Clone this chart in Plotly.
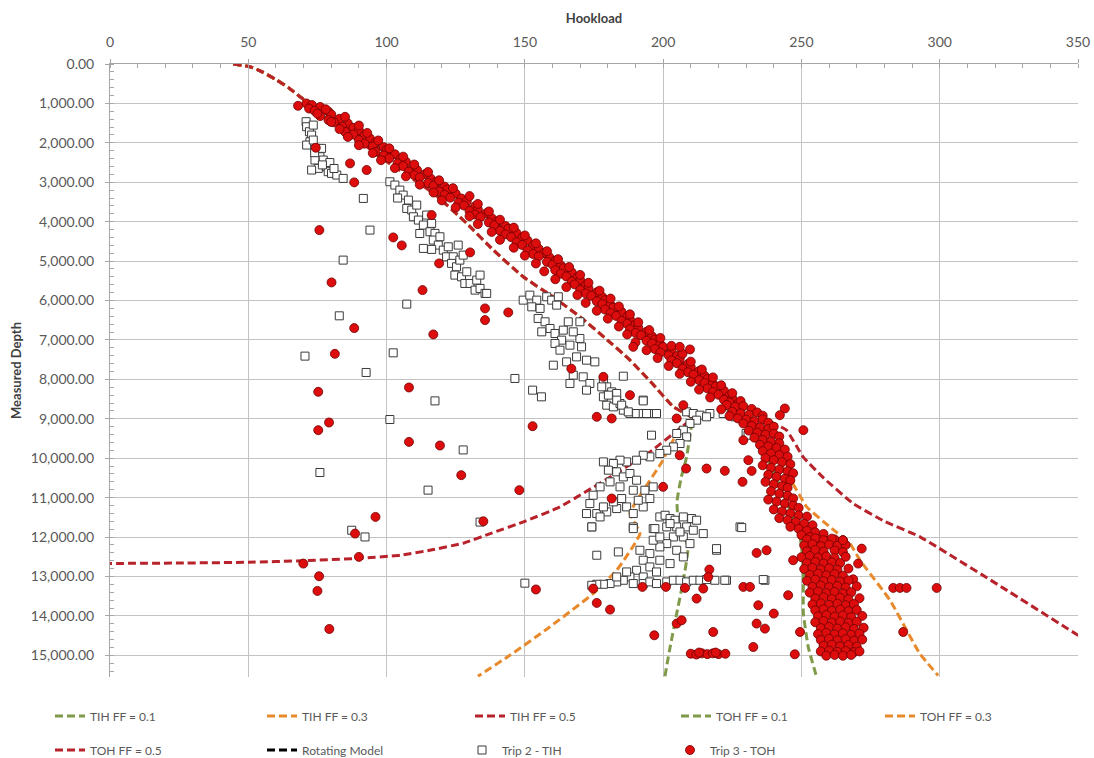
import plotly.graph_objects as go

# ---------------------------------------------------------------------------
# Torque & drag model curves: hookload (klbf) vs measured depth (ft)
# ---------------------------------------------------------------------------
# vertical section shared by every model curve
surface_hl = [44.6, 50.6, 55.0, 60.3, 64.5, 68.7, 72.0]
surface_md = [0, 70, 200, 406, 600, 830, 1000]

# trip-in-hole curves follow the FF = 0.5 path down to ~8,950 ft
tih_upper_hl = [76, 82, 88, 93, 97.6, 107, 117, 129, 138.6, 149.4, 160, 170, 179, 188, 196, 203.7, 209, 210.5]
tih_upper_md = [1250, 1550, 1850, 2100, 2352, 2800, 3282, 4043, 4720, 5397, 5900, 6414, 6950, 7512, 8100, 8697, 8900, 8980]

tih_ff01_hl = surface_hl + tih_upper_hl + [209.5, 208.5, 206.5, 205, 205.5, 209, 207.3, 204.9, 202.5, 200.6]
tih_ff01_md = surface_md + tih_upper_md + [9500, 9966, 10500, 11100, 11600, 12250, 13096, 13942, 14800, 15550]

tih_ff03_hl = surface_hl + tih_upper_hl + [204, 199.5, 193, 188, 191.6, 183.2, 174.7, 159, 144.6, 133]
tih_ff03_md = surface_md + tih_upper_md + [9500, 10100, 10800, 11400, 11911, 12842, 13434, 14281, 15000, 15530]

tih_ff05_hl = surface_hl + tih_upper_hl + [205, 196, 182, 172, 162.7, 150, 138, 128, 116, 105, 90, 70, 50, 25, 0]
tih_ff05_md = surface_md + tih_upper_md + [9300, 9800, 10430, 10850, 11235, 11600, 11900, 12150, 12330, 12460, 12540, 12600, 12640, 12660, 12670]

# pull-out-of-hole curves share the upper build-up to ~8,450 ft
toh_upper_hl = [83, 94.5, 116.5, 138.5, 159.5, 178, 196, 215, 222]
toh_upper_md = [1500, 2000, 3000, 4000, 5000, 6000, 7000, 8000, 8450]

toh_ff01_hl = surface_hl + toh_upper_hl + [226, 230, 234, 238.6, 244, 249.5, 250.7, 250.7, 252.5, 255.5]
toh_ff01_md = surface_md + toh_upper_md + [8700, 9100, 9600, 10135, 11000, 12000, 12760, 13940, 14800, 15550]

toh_ff03_hl = surface_hl + toh_upper_hl + [228, 233, 238, 243, 248.3, 251.9, 260.3, 267.5, 271.2, 282, 292.8, 299.4]
toh_ff03_md = surface_md + toh_upper_md + [8700, 9100, 9600, 10200, 10812, 11235, 11743, 12160, 12589, 13600, 14957, 15510]

toh_ff05_hl = surface_hl + toh_upper_hl + [232, 238, 244.6, 250.6, 258, 268.7, 280, 293, 322, 350, 362]
toh_ff05_md = surface_md + toh_upper_md + [8850, 9050, 9290, 9966, 10500, 11150, 11600, 12000, 13250, 14490, 15000]

# ---------------------------------------------------------------------------
# Field measurements: (hookload, measured depth)
# ---------------------------------------------------------------------------
trip2_tih = [
    # shallow cluster
    (70.9, 1464), (71.1, 1591), (72.1, 1718), (72.9, 1802), (72.3, 1972), (71.1, 2056), (73.5, 1929),
    (74.7, 2140), (76.5, 2140), (75.9, 2352), (74.1, 2436), (77.1, 2436), (78.3, 2606), (75.3, 2648),
    (78.9, 2732), (80.1, 2775), (82.0, 2817), (84.3, 2902), (72.9, 2690), (73.5, 1550), (74.0, 2250),
    (79.5, 2500), (76.8, 2560), (81.0, 2650),
    # second leg
    (101.2, 2987), (103.0, 3071), (104.8, 3198), (106.0, 3325), (107.9, 3452), (107.3, 3664), (109.1, 3705),
    (110.9, 3579), (109.7, 3875), (111.5, 3959), (113.3, 4086), (114.5, 3832), (116.3, 4043), (115.7, 4256),
    (117.5, 4297), (116.9, 4467), (119.3, 4383), (118.7, 4594), (120.5, 4721), (122.3, 4637), (121.7, 4891),
    (124.1, 4891), (123.5, 5058), (125.3, 5145), (126.5, 4975), (124.7, 5355), (127.1, 5398), (129.0, 5271),
    (128.3, 5567), (130.2, 5567), (132.6, 5482), (132.0, 5736), (133.8, 5693), (135.6, 5820), (113.3, 4678),
    (116.3, 4703), (125.9, 4594), (127.7, 4848), (104.0, 3400), (112.0, 4300), (133.8, 5355), (136.2, 5820),
    # third leg
    (149.4, 5990), (151.8, 5863), (154.3, 5990), (152.5, 6160), (155.5, 6200), (157.9, 5905), (159.7, 5990),
    (162.1, 5905), (161.5, 6117), (154.8, 6455), (157.3, 6540), (159.1, 6709), (156.1, 6794), (160.9, 6836),
    (163.9, 6751), (163.3, 7005), (166.3, 7132), (160.9, 7089), (169.9, 6962), (170.5, 7175), (168.7, 7429),
    (172.3, 7513), (175.3, 7556), (162.7, 7259), (165.7, 6540), (167.5, 6794), (169.9, 6540), (160.3, 7640),
    (165.1, 7556), (167.5, 7893), (171.1, 7936), (173.5, 8104), (178.4, 8020), (179.6, 8190), (181.4, 8317),
    (183.2, 8358), (179.6, 8655), (182.0, 8697), (184.4, 8612), (185.6, 8781), (188.0, 8866), (190.4, 8866),
    (192.8, 8866), (195.2, 8866), (197.6, 8866), (178.4, 8443), (166.3, 8104), (172.3, 8274), (177.8, 8190),
    (180.2, 8400), (183.2, 8527), (185.0, 8654), (187.4, 8824), (194.0, 8866), (192.8, 8527),
    # turn-around near 8,900 ft and upper "Z"
    (208.5, 8824), (216.9, 8866), (210.9, 8866), (213.3, 8908), (215.7, 8950), (212.1, 9035), (209.7, 9119),
    (207.3, 9289), (204.9, 9373), (208.5, 9459), (206.1, 9627), (203.7, 9713), (201.3, 9797), (198.8, 9881),
    (195.2, 9966), (192.8, 9924), (190.4, 10050), (186.8, 10094), (184.4, 10050), (182.0, 10135), (178.4, 10094),
    (180.2, 10304), (183.2, 10346), (185.6, 10474), (188.0, 10388), (190.4, 10558), (189.2, 10812), (184.4, 10727),
    (180.8, 10600), (177.2, 10727), (174.7, 10938), (173.5, 11150), (172.3, 11404), (176.0, 11404), (179.6, 11362),
    (183.2, 11277), (186.8, 11235), (189.2, 11404), (192.8, 11235), (195.2, 11023), (196.4, 10727), (193.4, 10812),
    (191.0, 11066), (185.0, 11023), (182.0, 11108), (178.4, 11235), (174.2, 11743), (177.2, 11489), (189.2, 11743),
    (196.4, 11785),
    # lower "Z" and the 13,100 ft run
    (198.8, 11489), (200.7, 11447), (202.5, 11531), (204.3, 11573), (207.3, 11489), (210.3, 11531), (212.1, 11573),
    (201.3, 11743), (204.9, 11743), (208.5, 11743), (210.9, 11827), (214.5, 11912), (203.7, 11997), (207.3, 11997),
    (209.7, 12166), (201.3, 12166), (198.8, 12250), (204.9, 12335), (207.3, 12504), (195.2, 12419), (198.8, 12588),
    (202.5, 12673), (192.8, 12588), (195.2, 12758), (197.6, 12885), (190.4, 12842), (192.8, 13012), (188.0, 13012),
    (185.6, 13096), (183.2, 13138), (180.8, 13180), (178.4, 13198), (176.0, 13198), (174.2, 13223), (189.2, 13180),
    (192.8, 13180), (195.2, 13138), (197.6, 13180), (201.3, 13138), (203.7, 13096), (206.1, 13096), (208.5, 13138),
    (210.9, 13096), (213.3, 13096), (215.7, 13079), (218.7, 13096), (222.9, 13096), (236.8, 13096), (219.3, 12335),
    (227.8, 11743), (176.0, 12461), (183.8, 12377), (191.6, 12335), (196.4, 12080), (198.8, 11997), (202.5, 11658),
    (206.1, 11870), (186.8, 12885), (183.2, 13012),
    # scattered readings
    (91.6, 3410), (94.0, 4213), (84.3, 4975), (82.9, 6388), (70.5, 7410), (92.6, 7825), (102.4, 7327),
    (107.3, 6091), (101.2, 9018), (75.9, 10363), (87.4, 11827), (92.2, 11997), (117.5, 8546), (127.7, 9790),
    (115.0, 10810), (133.8, 11620), (150.0, 13170), (146.4, 7977), (152.8, 8274), (156.0, 8443), (185.6, 7919),
    (192.8, 8546), (195.8, 9416), (230.0, 9373), (230.7, 9416), (226.0, 8950), (221.7, 8866), (174.2, 11743),
    (189.2, 11785), (197.0, 11785), (228.4, 11760), (219.3, 12293), (236.2, 13079), (222.3, 13096),
]

trip3_toh = [
    # main pull-out trend
    (71, 1000), (73, 1040), (76, 1090), (72, 1130), (74, 1190), (79, 1210), (80, 1280), (76, 1320),
    (83, 1390), (79, 1420), (81, 1480), (86, 1510), (84, 1590), (88, 1620), (90, 1680), (85, 1720),
    (88, 1790), (92, 1810), (94, 1890), (90, 1930), (96, 1990), (92, 2020), (95, 2090), (99, 2110),
    (100, 2180), (96, 2230), (103, 2290), (99, 2320), (101, 2390), (105, 2410), (107, 2480), (104, 2520),
    (106, 2590), (110, 2610), (111, 2690), (108, 2730), (114, 2790), (110, 2820), (112, 2880), (116, 2910),
    (118, 2990), (115, 3020), (117, 3090), (121, 3110), (122, 3180), (119, 3230), (125, 3290), (121, 3320),
    (123, 3390), (127, 3410), (129, 3480), (126, 3520), (128, 3590), (132, 3610), (133, 3690), (130, 3730),
    (136, 3790), (132, 3820), (134, 3880), (138, 3910), (140, 3990), (137, 4020), (139, 4090), (143, 4110),
    (144, 4180), (141, 4230), (147, 4290), (143, 4320), (145, 4390), (149, 4410), (151, 4480), (147, 4520),
    (149, 4590), (153, 4610), (155, 4690), (151, 4730), (157, 4790), (153, 4820), (155, 4880), (159, 4910),
    (161, 4990), (158, 5020), (160, 5090), (163, 5110), (164, 5180), (161, 5230), (167, 5290), (163, 5320),
    (165, 5390), (169, 5410), (170, 5480), (167, 5520), (168, 5590), (172, 5610), (173, 5690), (170, 5730),
    (176, 5790), (172, 5820), (174, 5880), (178, 5910), (179, 5990), (176, 6020), (178, 6090), (181, 6110),
    (182, 6180), (179, 6230), (185, 6290), (181, 6320), (183, 6390), (187, 6410), (188, 6480), (185, 6520),
    (187, 6590), (190, 6610), (191, 6690), (188, 6730), (194, 6790), (190, 6820), (192, 6880), (196, 6910),
    (197, 6990), (194, 7020), (196, 7090), (199, 7110), (200, 7180), (197, 7230), (203, 7290), (199, 7320),
    (202, 7390), (205, 7410), (206, 7480), (203, 7520), (205, 7590), (209, 7610), (210, 7690), (207, 7730),
    (213, 7790), (209, 7820), (211, 7880), (215, 7910), (216, 7990), (213, 8020), (215, 8090), (218, 8110),
    (219, 8180), (216, 8230), (222, 8290), (218, 8320), (220, 8390), (224, 8410), (225, 8480), (222, 8520),
    (224, 8590), (227, 8620),
    (68, 1060), (78, 1150), (75, 1260), (85, 1340), (80, 1470), (90, 1560), (83, 1650), (93, 1750),
    (86, 1850), (97, 1940), (90, 2060), (101, 2140), (95, 2260), (106, 2350), (98, 2440), (110, 2550),
    (103, 2640), (115, 2740), (107, 2850), (119, 2950), (112, 3060), (124, 3150), (117, 3260), (130, 3350),
    (120, 3460), (133, 3550), (125, 3640), (137, 3740), (130, 3860), (141, 3950), (133, 4060), (146, 4150),
    (138, 4260), (150, 4350), (141, 4460), (154, 4550), (146, 4660), (158, 4750), (150, 4860), (162, 4950),
    (154, 5060), (166, 5150), (157, 5260), (170, 5350), (161, 5460), (173, 5550), (165, 5660), (177, 5750),
    (169, 5860), (181, 5950), (172, 6060), (184, 6150), (176, 6260), (188, 6350), (180, 6460), (191, 6550),
    (184, 6660), (195, 6750), (187, 6860), (199, 6950), (190, 7060), (203, 7150), (194, 7260), (207, 7350),
    (198, 7460), (210, 7550), (202, 7660), (214, 7750), (206, 7860), (218, 7950), (210, 8060), (221, 8150),
    (213, 8260), (225, 8350), (217, 8460), (228, 8550),
    # bend below 8,600 ft
    (223, 8650), (226, 8700), (229, 8680), (232, 8750), (221, 8760), (225, 8820), (228, 8860), (231, 8900),
    (234, 8840), (236, 8920), (224, 8930), (227, 8990), (230, 9020), (233, 9060), (236, 9010), (238, 9100),
    (229, 9120), (232, 9180), (235, 9220), (238, 9260), (240, 9200), (231, 9300), (234, 9350), (237, 9400),
    (240, 9380), (242, 9450), (233, 9480), (236, 9540), (239, 9580), (242, 9620), (235, 9660), (238, 9700),
    (241, 9740), (244, 9780), (236, 9820), (239, 9880), (242, 9920), (245, 9960), (237, 10000), (240, 10050),
    (243, 10100), (246, 10150), (236, 10180), (239, 10240), (242, 10290), (245, 10330), (247, 10380), (238, 10420),
    (241, 10470), (244, 10520), (246, 10560), (237, 10600), (240, 10660), (243, 10710), (245, 10750), (239, 10840),
    (242, 10900), (245, 10950), (247, 11020), (238, 11050), (241, 11100), (244, 11150), (247, 11200), (249, 11260),
    (240, 11300), (243, 11350), (246, 11400), (249, 11450), (252, 11480), (242, 11520), (245, 11570), (248, 11620),
    (251, 11660), (254, 11700), (246, 11740), (249, 11790), (252, 11840), (255, 11880), (258, 11920), (250, 11950),
    (253, 12000), (256, 12050), (259, 12100), (262, 12060),
    # deep cluster
    (252, 12060), (255, 12030), (258, 12080), (261, 12040), (265, 12080),
    (251, 12210), (254, 12180), (257, 12230), (260, 12190), (263, 12220), (266, 12200), (271.8, 12293),
    (252, 12360), (255, 12330), (258, 12370), (262, 12340), (265, 12380),
    (250, 12510), (253, 12480), (256, 12520), (259, 12490), (262, 12530), (266, 12500),
    (252, 12660), (255, 12630), (258, 12670), (261, 12640), (264, 12660), (270.5, 12673),
    (251, 12810), (254, 12780), (257, 12820), (260, 12790), (263, 12830), (267, 12800),
    (253, 12960), (256, 12930), (259, 12970), (262, 12940), (265, 12980), (268.7, 13071),
    (252, 13110), (255, 13080), (258, 13120), (261, 13090), (264, 13130), (267, 13100),
    (254, 13260), (257, 13230), (260, 13270), (263, 13240), (266, 13280), (270, 13250),
    (253, 13410), (256, 13380), (259, 13420), (262, 13390), (265, 13430), (268, 13400),
    (255, 13560), (258, 13530), (261, 13570), (264, 13540), (267, 13580), (271, 13550),
    (254, 13710), (257, 13680), (260, 13720), (263, 13690), (266, 13730), (269, 13700),
    (255, 13860), (258, 13830), (261, 13870), (264, 13840), (267, 13880), (270, 13850),
    (256, 14010), (259, 13980), (262, 14020), (265, 13990), (268, 14030), (272, 14000),
    (255, 14160), (258, 14130), (261, 14170), (264, 14140), (267, 14180), (270, 14150),
    (257, 14310), (260, 14280), (263, 14320), (266, 14290), (269, 14330), (272.5, 14300),
    (256, 14460), (259, 14430), (262, 14470), (265, 14440), (268, 14480), (271, 14450),
    (257, 14610), (260, 14580), (263, 14620), (266, 14590), (269, 14630), (272, 14600),
    (258, 14760), (261, 14730), (264, 14770), (267, 14740), (270, 14780),
    (257, 14900), (260, 14880), (263, 14910), (266, 14890), (269, 14920), (271, 14900),
    (259, 15010), (262, 14990), (265, 15010), (268, 14990),
    # scattered readings
    (74.4, 2124), (86.8, 2521), (92.8, 2690), (88.3, 3003), (75.7, 4213), (102.4, 4399), (105.5, 4602),
    (119.0, 5058), (130.2, 4779), (116.3, 3832), (80.1, 5541), (113.0, 5736), (135.6, 6200), (135.6, 6497),
    (144.0, 6302), (88.3, 6700), (116.9, 6860), (81.3, 7352), (166.8, 7728), (178.4, 7936), (189.2, 7175),
    (206.0, 7175), (209.7, 7241), (108.1, 8206), (75.3, 8316), (188.0, 8400), (207.3, 8654), (79.2, 9094),
    (75.3, 9289), (152.8, 9188), (176.0, 8950), (181.4, 8992), (204.9, 8992), (108.1, 9586), (119.3, 9678),
    (127.0, 10430), (148.0, 10810), (135.0, 11600), (96.0, 11489), (88.6, 11912), (90.0, 12503), (69.9, 12673),
    (75.6, 12994), (75.0, 13367), (79.3, 14332), (181.4, 11023), (200.0, 10727), (206.0, 9924), (208.3, 10262),
    (215.7, 10262), (222.3, 10320), (229.0, 9543), (228.7, 10600), (230.8, 10050), (232.0, 10322),
    (250.7, 9289), (244.0, 8739), (242.2, 8908), (216.7, 12825), (216.3, 13012), (233.8, 12403), (237.4, 12334),
    (247.0, 12588), (174.7, 13307), (176.0, 13671), (180.8, 13840), (192.5, 13265), (201.0, 13265),
    (207.9, 13290), (214.5, 13307), (212.1, 13561), (196.8, 14492), (204.9, 14195), (206.7, 14111),
    (218.1, 14408), (229.0, 13265), (231.4, 13265), (245.2, 13476), (234.4, 13730), (240.0, 13941),
    (233.8, 14195), (236.8, 14323), (232.6, 14789), (247.6, 14974), (249.5, 14408), (265.0, 12080),
    (283.2, 13290), (285.6, 13290), (288.0, 13290), (298.9, 13290), (286.8, 14408), (154.0, 13330),
    (210.0, 14960), (212.0, 14980), (214.0, 14950), (216.0, 14970), (218.0, 14950), (220.0, 14970),
    (222.5, 14960), (213.0, 14930), (219.0, 14930),
]

trip2_hl = [p[0] for p in trip2_tih]
trip2_md = [p[1] for p in trip2_tih]
trip3_hl = [p[0] for p in trip3_toh]
trip3_md = [p[1] for p in trip3_toh]

# ---------------------------------------------------------------------------
FONT = "Lato, 'Open Sans', sans-serif"
TEXT = "#595959"
GREEN, ORANGE, DARKRED = "#7f9a48", "#e8892b", "#b8232b"
DASH = "8px,4px"

PLOT_L, PLOT_R, PLOT_T, PLOT_B = 110, 1078, 64, 677


def legend_at(px_left, py_mid):
    return dict(
        x=(px_left - PLOT_L) / (PLOT_R - PLOT_L),
        y=(PLOT_B - py_mid) / (PLOT_B - PLOT_T),
        xanchor="left", yanchor="middle", orientation="h",
        bgcolor="rgba(0,0,0,0)", borderwidth=0,
        font=dict(family=FONT, size=12, color=TEXT),
    )


fig = go.Figure()

model_curves = [
    ("TIH FF = 0.1", tih_ff01_hl, tih_ff01_md, GREEN, "legend"),
    ("TIH FF = 0.3", tih_ff03_hl, tih_ff03_md, ORANGE, "legend2"),
    ("TIH FF = 0.5", tih_ff05_hl, tih_ff05_md, DARKRED, "legend3"),
    ("TOH FF = 0.1", toh_ff01_hl, toh_ff01_md, GREEN, "legend4"),
    ("TOH FF = 0.3", toh_ff03_hl, toh_ff03_md, ORANGE, "legend5"),
    ("TOH FF = 0.5", toh_ff05_hl, toh_ff05_md, DARKRED, "legend6"),
]
for name, hl, md, color, lg in model_curves:
    fig.add_trace(go.Scatter(
        x=hl, y=md, name=name, mode="lines", legend=lg,
        line=dict(color=color, width=3, dash=DASH, shape="spline", smoothing=0.4),
    ))

fig.add_trace(go.Scatter(
    x=[None], y=[None], name="Rotating Model", mode="lines", legend="legend7",
    line=dict(color="#000000", width=3, dash=DASH),
))

fig.add_trace(go.Scatter(
    x=trip2_hl, y=trip2_md, name="Trip 2 - TIH", mode="markers", legend="legend8",
    marker=dict(symbol="square", size=8, color="#ffffff", line=dict(color="#3a3a3a", width=1)),
))

fig.add_trace(go.Scatter(
    x=trip3_hl, y=trip3_md, name="Trip 3 - TOH", mode="markers", legend="legend9",
    marker=dict(symbol="circle", size=9, color="#dd0d0d", line=dict(color="#6e0000", width=0.8)),
))

axis_common = dict(
    showgrid=True, gridcolor="#c3c3c3", gridwidth=1,
    showline=True, linecolor="#a6a6a6", linewidth=1,
    ticks="outside", ticklen=4, tickcolor="#a6a6a6",
    zeroline=False,
    tickfont=dict(family=FONT, size=14, color=TEXT),
)

fig.update_layout(
    width=1094, height=758,
    margin=dict(l=PLOT_L, r=1094 - PLOT_R, t=PLOT_T, b=758 - PLOT_B, autoexpand=False),
    paper_bgcolor="#ffffff", plot_bgcolor="#ffffff",
    xaxis=dict(
        axis_common, side="top", range=[0, 350], tick0=0, dtick=50,
        ticklabelstandoff=6,
        minor=dict(dtick=10, ticks="inside", ticklen=4, tickcolor="#a6a6a6", showgrid=False),
        title=dict(text="<b>Hookload</b>", standoff=6,
                   font=dict(family=FONT, size=13, color="#404040")),
    ),
    yaxis=dict(
        axis_common, range=[15550, 0], tick0=0, dtick=1000, tickformat=",.2f",
        ticklabelstandoff=8,
        minor=dict(dtick=200, ticks="inside", ticklen=4, tickcolor="#a6a6a6", showgrid=False),
        title=dict(text="<b>Measured Depth</b>", standoff=6,
                   font=dict(family=FONT, size=13, color="#404040")),
    ),
    legend=legend_at(50, 716),
    legend2=legend_at(262, 716),
    legend3=legend_at(470, 716),
    legend4=legend_at(676, 716),
    legend5=legend_at(880, 716),
    legend6=legend_at(50, 750),
    legend7=legend_at(262, 750),
    legend8=legend_at(462, 750),
    legend9=legend_at(670, 750),
    showlegend=True,
)

fig.write_html("out.html")
